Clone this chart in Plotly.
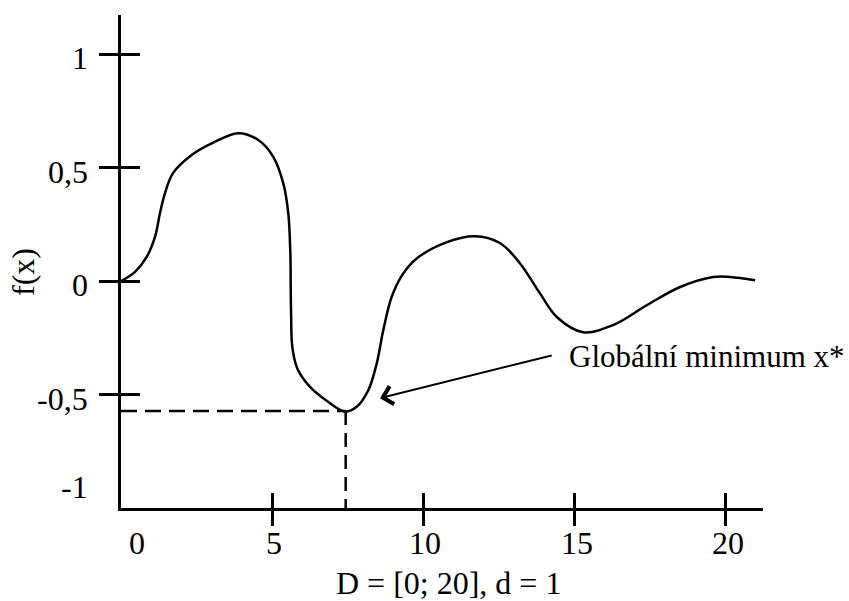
import plotly.graph_objects as go

# ---- data ----
curve_x = [0, 0.463, 0.850, 1.124, 1.290, 1.455, 1.720, 2.338, 2.999, 3.879, 4.540, 5.036,
           5.367, 5.532, 5.600, 5.612, 5.625, 5.665, 5.830, 6.250, 6.802, 7.410, 7.794, 8.178,
           8.456, 8.674, 8.952, 9.335, 9.778, 10.78, 11.71, 12.53, 13.19, 13.85, 14.42, 15.28,
           16.27, 17.39, 18.49, 19.58, 20.14, 20.97]
curve_y = [0, 0.041, 0.107, 0.195, 0.300, 0.388, 0.476, 0.556, 0.607, 0.652, 0.622, 0.548,
           0.431, 0.299, 0.122, -0.025, -0.142, -0.290, -0.385, -0.466, -0.527, -0.575, -0.554,
           -0.481, -0.363, -0.216, -0.069, 0.034, 0.100, 0.172, 0.198, 0.168, 0.079, -0.053,
           -0.159, -0.225, -0.194, -0.106, -0.026, 0.018, 0.018, 0.004]
min_x = 7.43
min_y = -0.573
x_ticks = [0, 5, 10, 15, 20]
x_tick_labels = ["0", "5", "10", "15", "20"]
y_ticks = [1, 0.5, 0, -0.5, -1]
y_tick_labels = ["1", "0,5", "0", "-0,5", "-1"]
x_title = "D = [0; 20], d = 1"
y_title = "f(x)"
annot_text = "Globální minimum x*"
arrow_tip = (8.565, -0.516)
arrow_tail = (14.29, -0.326)
text_pos = (14.75, -0.331)
x_range = [0, 21.23]
y_range = [-1, 1.173]

FONT = "Liberation Serif"
FS = 32
LW = 2.5

fig = go.Figure()
fig.add_trace(go.Scatter(x=curve_x, y=curve_y, mode="lines",
                         line=dict(color="black", width=LW, shape="spline", smoothing=1.0),
                         showlegend=False, hoverinfo="skip", cliponaxis=False))
fig.add_trace(go.Scatter(x=[x_range[0], min_x], y=[min_y, min_y], mode="lines",
                         line=dict(color="black", width=2.5, dash="16px,8px"),
                         showlegend=False, hoverinfo="skip"))
fig.add_trace(go.Scatter(x=[min_x, min_x], y=[min_y, y_range[0]], mode="lines",
                         line=dict(color="black", width=2.5, dash="14px,8px"),
                         showlegend=False, hoverinfo="skip"))
# invisible trace on overlay axes so they render
fig.add_trace(go.Scatter(x=[None], y=[None], xaxis="x2", yaxis="y2", showlegend=False))

xt = [v for v in x_ticks if v != 0]
yt = [v for v in y_ticks if v != -1]
common_x = dict(range=x_range, tickvals=xt, showticklabels=False, showgrid=False,
                zeroline=False, tickcolor="black", tickwidth=LW, ticklen=15)
common_y = dict(range=y_range, tickvals=yt, showticklabels=False, showgrid=False,
                zeroline=False, tickcolor="black", tickwidth=LW, ticklen=19)

fig.update_layout(
    width=849, height=601,
    margin=dict(l=121, r=86, t=15, b=93),
    paper_bgcolor="white", plot_bgcolor="white",
    font=dict(family=FONT, size=FS, color="black"),
    xaxis=dict(**common_x, ticks="outside", showline=True, linecolor="black", linewidth=LW),
    yaxis=dict(**common_y, ticks="outside", showline=True, linecolor="black", linewidth=LW),
    xaxis2=dict(**common_x, ticks="inside", overlaying="x", anchor="y", side="bottom",
                showline=False),
    yaxis2=dict(**common_y, ticks="inside", overlaying="y", anchor="x", side="left",
                showline=False),
)

ann = []
# x tick labels
for v, t in zip(x_ticks, x_tick_labels):
    ann.append(dict(x=v, y=0, xref="x", yref="paper", text=t, showarrow=False,
                    xanchor="center", yanchor="middle", yshift=-35,
                    xshift=(16 if v == 0 else 2)))
# y tick labels
for v, t in zip(y_ticks, y_tick_labels):
    ann.append(dict(x=0, y=v, xref="paper", yref="y", text=t, showarrow=False,
                    xanchor="right", yanchor="middle", xshift=-31,
                    yshift=(21 if v == -1 else -4)))
# axis titles
ann.append(dict(x=(449 - 121) / 642, y=(508 - 583) / 493, xref="paper", yref="paper",
                text=x_title, showarrow=False, xanchor="center", yanchor="middle"))
ann.append(dict(x=(23 - 121) / 642, y=(508 - 272) / 493, xref="paper", yref="paper",
                text=y_title, showarrow=False, textangle=-90,
                xanchor="center", yanchor="middle"))
# arrow + text
ann.append(dict(x=arrow_tip[0], y=arrow_tip[1], ax=arrow_tail[0], ay=arrow_tail[1],
                xref="x", yref="y", axref="x", ayref="y", text="", showarrow=True,
                arrowhead=4, arrowsize=1.8, arrowwidth=2, arrowcolor="black"))
ann.append(dict(x=text_pos[0], y=text_pos[1], xref="x", yref="y", text=annot_text,
                showarrow=False, xanchor="left", yanchor="middle", font=dict(size=31)))
fig.update_layout(annotations=ann)

fig.write_html("out.html")
